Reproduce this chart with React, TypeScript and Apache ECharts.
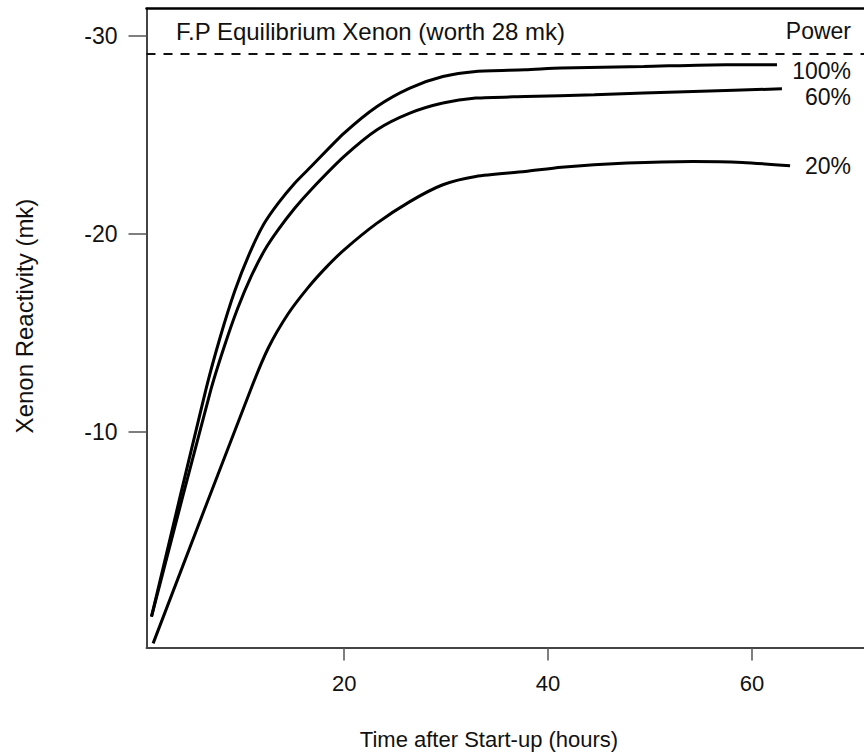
import React, { useEffect, useRef } from "react";
import * as echarts from "echarts";

const X_TICKS = [20, 40, 60];
const Y_TICKS = [-30, -20, -10];
const X_MIN = 0.6;
const X_MAX = 71;
const Y_MIN = -31.4;
const Y_MAX = 0.9;
const EQUILIBRIUM = -29.1;

const TITLE = "F.P Equilibrium Xenon (worth 28 mk)";
const X_NAME = "Time after Start-up (hours)";
const Y_NAME = "Xenon Reactivity (mk)";
const LEGEND_TITLE = "Power";
const POWER_LABELS = ["100%", "60%", "20%"];

const power100: [number, number][] = [
  [1.09, -0.66], [6.42, -12.12], [7.85, -14.82], [9.26, -17.12], [10.69, -19.0],
  [12.1, -20.49], [13.53, -21.56], [15.14, -22.57], [16.75, -23.41], [19.99, -25.1],
  [23.22, -26.45], [26.44, -27.38], [29.68, -27.96], [32.91, -28.22], [37.75, -28.3],
  [41.31, -28.39], [49.38, -28.47], [57.45, -28.56], [62.46, -28.56],
];

const power60: [number, number][] = [
  [1.09, -0.66], [6.91, -12.12], [8.24, -14.33], [9.55, -16.25], [10.88, -17.87],
  [12.2, -19.19], [13.53, -20.22], [15.14, -21.3], [16.75, -22.24], [19.99, -23.92],
  [23.22, -25.27], [26.44, -26.11], [29.68, -26.62], [32.91, -26.87], [37.75, -26.95],
  [44.54, -27.04], [54.23, -27.21], [62.95, -27.34],
];

const power20: [number, number][] = [
  [1.25, 0.69], [10.81, -12.12], [12.56, -14.25], [14.5, -15.97], [16.43, -17.28],
  [18.18, -18.29], [19.99, -19.2], [23.22, -20.55], [26.44, -21.64], [29.68, -22.49],
  [32.91, -22.91], [37.75, -23.16], [41.31, -23.38], [47.76, -23.59], [54.23, -23.67],
  [59.07, -23.62], [63.75, -23.45],
];

const FONT = "Arial, 'Liberation Sans', Helvetica, sans-serif";

export default function App() {
  const ref = useRef<HTMLDivElement>(null);

  useEffect(() => {
    if (!ref.current) return;
    const chart = echarts.init(ref.current, null, { renderer: "svg" });

    const curve = (data: [number, number][]) => ({
      type: "line",
      data,
      showSymbol: false,
      smooth: 0.25,
      lineStyle: { color: "#000", width: 3 },
      silent: true,
    });

    const txt = (text: string, x: number, y: number, align: string, size: number, rotation = 0) => ({
      type: "text",
      x,
      y,
      rotation,
      silent: true,
      style: {
        text,
        fill: "#111",
        fontSize: size,
        fontFamily: FONT,
        align,
        verticalAlign: "middle",
      },
    });

    chart.setOption({
      animation: false,
      backgroundColor: "#fff",
      grid: { left: 146.5, top: 8.5, right: -9, bottom: 105.5 },
      xAxis: [
        {
          type: "value",
          min: X_MIN,
          max: X_MAX,
          position: "bottom",
          axisLine: { show: true, onZero: false, lineStyle: { color: "#444", width: 2 } },
          axisTick: { show: true, length: 13, customValues: X_TICKS, lineStyle: { color: "#555", width: 1.5 } },
          axisLabel: { customValues: X_TICKS, margin: 25, fontSize: 22, color: "#111", fontFamily: FONT },
          splitLine: { show: false },
        },
        {
          type: "value",
          min: X_MIN,
          max: X_MAX,
          position: "top",
          axisLine: { show: true, onZero: false, lineStyle: { color: "#000", width: 2.5 } },
          axisTick: { show: false },
          axisLabel: { show: false },
          splitLine: { show: false },
        },
      ],
      yAxis: {
        type: "value",
        inverse: true,
        min: Y_MIN,
        max: Y_MAX,
        axisLine: { show: true, onZero: false, lineStyle: { color: "#444", width: 2 } },
        axisTick: { show: true, length: 18, customValues: Y_TICKS, lineStyle: { color: "#555", width: 1.5 } },
        axisLabel: { customValues: Y_TICKS, margin: 29, fontSize: 23, color: "#111", fontFamily: FONT },
        splitLine: { show: false },
      },
      series: [
        {
          type: "line",
          data: [[X_MIN, EQUILIBRIUM], [X_MAX, EQUILIBRIUM]],
          showSymbol: false,
          silent: true,
          lineStyle: { color: "#111", width: 2, type: [9, 8] },
        },
        curve(power100),
        curve(power60),
        curve(power20),
      ],
      graphic: [
        txt(TITLE, 176, 31, "left", 24),
        txt(LEGEND_TITLE, 851, 31, "right", 23),
        txt(POWER_LABELS[0], 851, 71, "right", 23),
        txt(POWER_LABELS[1], 851, 97, "right", 23),
        txt(POWER_LABELS[2], 851, 166, "right", 23),
        txt(X_NAME, 489, 739, "center", 22),
        txt(Y_NAME, 24, 316, "center", 24, Math.PI / 2),
      ],
    });

    return () => chart.dispose();
  }, []);

  return (
    <div
      ref={ref}
      style={{ position: "absolute", left: 0, top: 0, width: 864, height: 753, background: "#fff" }}
    />
  );
}
